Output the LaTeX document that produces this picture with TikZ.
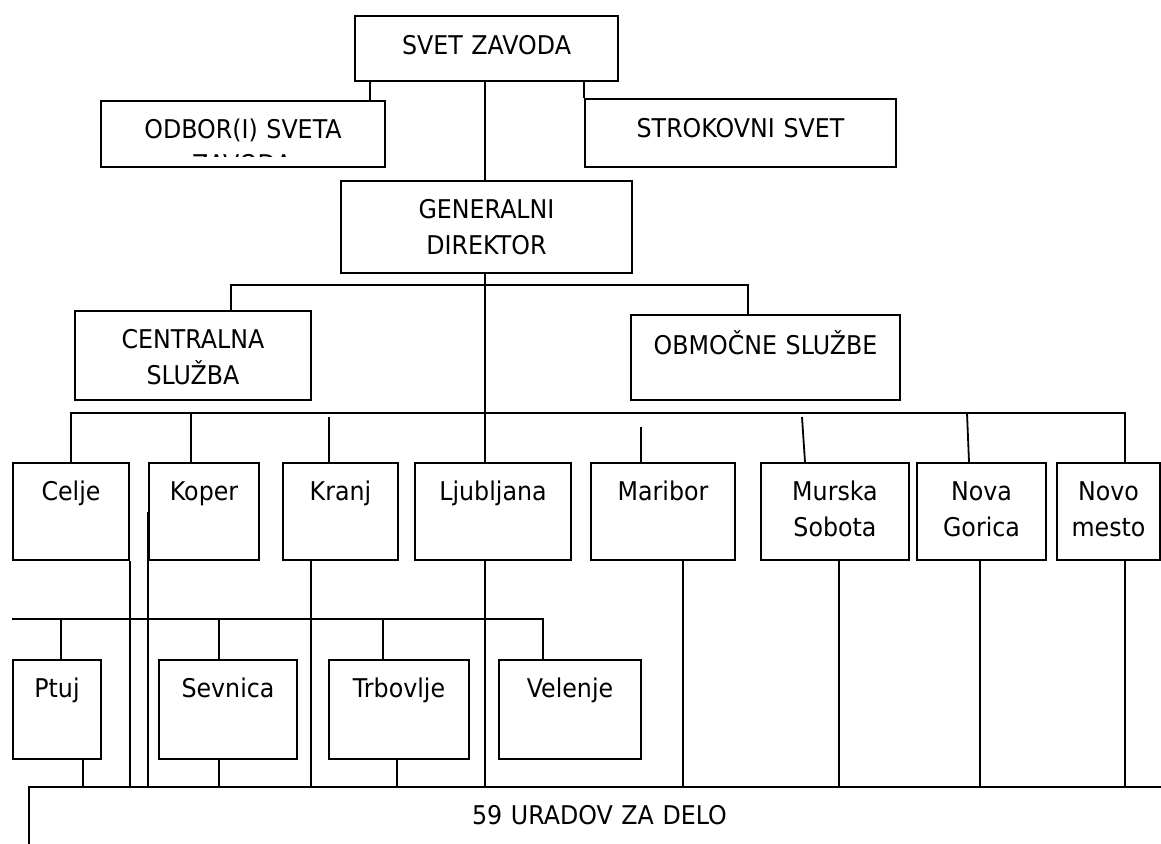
\documentclass[tikz,border=0pt]{standalone}
\usepackage{fontspec}
\setmainfont{DejaVu Sans}[FakeStretch=0.92]
\usetikzlibrary{calc}

\begin{document}
\begin{tikzpicture}[x=0.5pt, y=-0.5pt, line width=0.9pt,
  font=\fontsize{12.9}{18.25}\selectfont,
  box/.style n args={3}{draw, line width=1pt, anchor=north west, inner sep=0pt,
    align=center, text width=#1, minimum width=#1, text height=#2, text depth=#3},
  city/.style={box={#1}{18.5pt}{30pt}},
  office/.style={box={#1}{18.5pt}{31pt}}]
  \useasboundingbox (0,0) rectangle (1161,843);
  \clip (0,0) rectangle (1161,843);

  % --- vrh: svet, odbori, strokovni svet ---
  \node[box={131.5pt}{19pt}{13.5pt}] (svet) at (354,15) {SVET ZAVODA};
  \node[box={142pt}{18.5pt}{14.5pt}] (odbor) at (100,100) {ODBOR(I) SVETA};
  \begin{scope}
    \clip (102,150) rectangle (382,156.5);
    \node[anchor=base, inner sep=0pt] (odborcut) at (242,173.5) {ZAVODA};
  \end{scope}
  \node[box={155.5pt}{19pt}{15pt}] (strok) at (584,98) {STROKOVNI SVET};
  \node[box={145.5pt}{18.5pt}{27.5pt}] (gen) at (340,180) {GENERALNI\\DIREKTOR};

  \draw ([xshift=8pt]svet.south west) -- ([xshift=8pt]svet.south west |- odbor.north);
  \draw (strok.north west) -- (strok.north west |- svet.south);
  \draw ([xshift=-0.75pt]svet.south) -- ([xshift=-0.75pt]gen.north);

  % --- sluzbe ---
  \node[box={118pt}{18.5pt}{26pt}] (central) at (74,310) {CENTRALNA\\SLUŽBA};
  \node[box={134.5pt}{19.5pt}{23pt}] (obm) at (630,314) {OBMOČNE SLUŽBE};
  \draw ([xshift=19pt]central.north) -- ++(0,-25) -| ([xshift=-8.75pt]obm.north);

  % --- obmocne sluzbe ---
  \node[city=58pt] (celje) at (12,462) {Celje};
  \node[city=55pt] (koper) at (148,462) {Koper};
  \node[city=57.5pt] (kranj) at (282,462) {Kranj};
  \node[city=78pt] (ljub) at (414,462) {Ljubljana};
  \node[city=72pt] (maribor) at (590,462) {Maribor};
  \node[city=74pt] (murska) at (760,462) {Murska\\Sobota};
  \node[city=64.5pt] (nova) at (916,462) {Nova\\Gorica};
  \node[city=51.5pt] (novo) at (1056,462) {Novo\\mesto};

  \draw ([xshift=-0.75pt]gen.south) -- ([xshift=-0.75pt]gen.south |- ljub.north);
  \draw (celje.north) -- ++(0,-49) -| ([xshift=8.25pt]novo.north);
  \draw ([xshift=-6.5pt]koper.north) -- ++(0,-49);
  \draw ([xshift=-5.75pt]kranj.north) -- ++(0,-45);
  \draw ([xshift=-11pt]maribor.north) -- ++(0,-35);
  \draw ([xshift=-15pt]murska.north) -- ++(-3,-45);
  \draw ([xshift=-6.25pt]nova.north) -- ++(-2,-49);

  % --- izpostave ---
  \node[office=44pt] (ptuj) at (12,659) {Ptuj};
  \node[office=69pt] (sevnica) at (158,659) {Sevnica};
  \node[office=70pt] (trbovlje) at (328,659) {Trbovlje};
  \node[office=71pt] (velenje) at (498,659) {Velenje};

  \coordinate (bus) at (12,619);
  \draw (bus) -| ([xshift=-13.5pt]velenje.north);
  \draw ([xshift=2pt]ptuj.north) -- ++(0,-40);
  \draw ([xshift=-4.5pt]sevnica.north) -- ++(0,-40);
  \draw ([xshift=-8pt]trbovlje.north) -- ++(0,-40);

  % --- uradi za delo ---
  \node[box={570.5pt}{18.5pt}{30pt}] (urad) at (28,786) {59 URADOV ZA DELO};

  \draw ([xshift=13pt]ptuj.south) -- ([xshift=13pt]ptuj.south |- urad.north);
  \draw (celje.south east) -- (celje.south east |- urad.north);
  \draw (koper.west) -- (koper.west |- urad.north);
  \draw ([xshift=-4.5pt]sevnica.south) -- ([xshift=-4.5pt]sevnica.south |- urad.north);
  \draw ([xshift=-14.75pt]kranj.south) -- ([xshift=-14.75pt]kranj.south |- urad.north);
  \draw ([xshift=-1pt]trbovlje.south) -- ([xshift=-1pt]trbovlje.south |- urad.north);
  \draw ([xshift=-0.75pt]gen.south |- ljub.south) -- ([xshift=-0.75pt]gen.south |- urad.north);
  \draw ([xshift=10pt]maribor.south) -- ([xshift=10pt]maribor.south |- urad.north);
  \draw ([xshift=2pt]murska.south) -- ([xshift=2pt]murska.south |- urad.north);
  \draw ([xshift=-0.75pt]nova.south) -- ([xshift=-0.75pt]nova.south |- urad.north);
  \draw ([xshift=8.25pt]novo.south) -- ([xshift=8.25pt]novo.south |- urad.north);
\end{tikzpicture}
\end{document}
